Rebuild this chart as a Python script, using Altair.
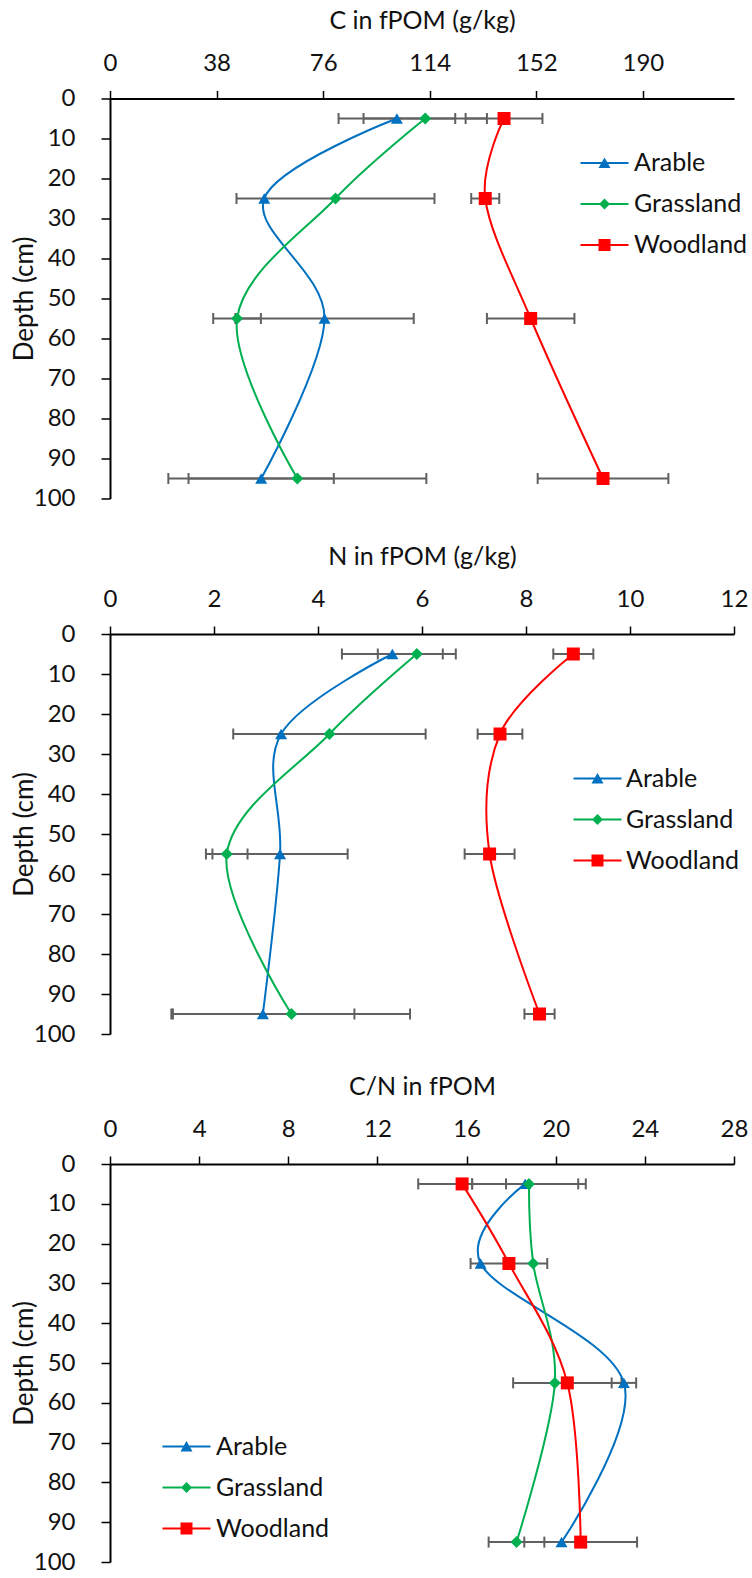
import altair as alt
import pandas as pd

SERIES = ["Arable", "Grassland", "Woodland"]
DEPTH = [5, 25, 55, 95]
COLORS = ["#0070C0", "#00B050", "#FF0000"]
SHAPES = ["triangle-up", "diamond", "square"]
SIZES = [144, 144, 169]
GREY = "#606060"

# Panel 1: C in fPOM (g/kg)
C_VALS = [
    [102.3, 55.0, 76.5, 53.9],
    [112.4, 80.4, 45.3, 66.8],
    [140.5, 133.8, 150.0, 175.8],
]
C_ERRS = [
    [20.8, None, 31.8, 25.9],
    [22.0, 35.3, 8.5, 46.0],
    [13.7, 5.0, 15.6, 23.3],
]
C_TICKS = [0, 38, 76, 114, 152, 190]

# Panel 2: N in fPOM (g/kg)
N_VALS = [
    [5.43, 3.29, 3.27, 2.94],
    [5.90, 4.22, 2.245, 3.49],
    [8.91, 7.50, 7.30, 8.26],
]
N_ERRS = [
    [0.97, None, 1.30, 1.76],
    [0.75, 1.85, 0.40, 2.28],
    [0.385, 0.43, 0.48, 0.29],
]
N_TICKS = [0, 2, 4, 6, 8, 10, 12]

# Panel 3: C/N in fPOM
CN_VALS = [
    [18.63, 16.63, 23.06, 20.26],
    [18.80, 18.99, 19.96, 18.24],
    [15.80, 17.90, 20.52, 21.12],
]
CN_ERRS = [
    [2.38, None, 0.55, None],
    [2.55, None, None, 1.25],
    [1.97, 1.72, 2.43, 2.53],
]
CN_TICKS = [0, 4, 8, 12, 16, 20, 24, 28]

LINE = "M-2.4,-0.1H2.4V0.1H-2.4Z"
LEG_PATHS = [
    LINE + "M0,-0.55L0.6,0.5H-0.6Z",
    LINE + "M0,-0.55L0.55,0L0,0.55L-0.55,0Z",
    LINE + "M-0.6,-0.6H0.6V0.6H-0.6Z",
]

FONT = "Lato"


def panel(vals, errs, xmax, xticks, xtitle, lx, ly, loff, height):
    rows = []
    for s, v, e in zip(SERIES, vals, errs):
        for d, vv, ee in zip(DEPTH, v, e):
            rows.append({"series": s, "depth": d, "value": vv, "err": ee})
    df = pd.DataFrame(rows)
    edf = df.dropna(subset=["err"]).copy()

    xs = alt.Scale(domain=[0, xmax], nice=False, zero=False)
    ys = alt.Scale(domain=[0, 100], reverse=True, nice=False)
    xax = alt.Axis(orient="top", values=xticks, title=xtitle, format="d", labelFlush=False)
    yax = alt.Axis(values=list(range(0, 101, 10)), title="Depth (cm)")
    Y = alt.Y("depth:Q", scale=ys, axis=yax)

    base_e = alt.Chart(edf).transform_calculate(
        lo="datum.value - datum.err", hi="datum.value + datum.err"
    )
    layers = [
        base_e.mark_rule(color=GREY, strokeWidth=2).encode(
            x=alt.X("lo:Q", scale=xs, axis=xax), x2="hi:Q", y=Y
        ),
        base_e.mark_tick(color=GREY, orient="vertical", size=11, thickness=2, opacity=1).encode(
            x=alt.X("lo:Q", scale=xs, axis=xax), y=Y
        ),
        base_e.mark_tick(color=GREY, orient="vertical", size=11, thickness=2, opacity=1).encode(
            x=alt.X("hi:Q", scale=xs, axis=xax), y=Y
        ),
    ]
    base = alt.Chart(df)
    for s, c in zip(SERIES, COLORS):
        layers.append(
            base.transform_filter(alt.datum.series == s)
            .mark_line(interpolate="cardinal", tension=0, strokeWidth=2, color=c)
            .encode(
                x=alt.X("value:Q", scale=xs, axis=xax),
                y=Y,
                order=alt.Order("depth:Q"),
            )
        )
    for s, c, sh, sz in zip(SERIES, COLORS, SHAPES, SIZES):
        layers.append(
            base.transform_filter(alt.datum.series == s)
            .mark_point(shape=sh, filled=True, size=sz, opacity=1, color=c)
            .encode(x=alt.X("value:Q", scale=xs, axis=xax), y=Y)
        )
    leg = alt.Legend(
        title=None,
        orient="none",
        legendX=lx,
        legendY=ly,
        symbolSize=400,
        symbolStrokeWidth=0,
        labelFont=FONT,
        labelFontSize=25,
        labelColor="#111111",
        labelOffset=loff,
        rowPadding=15,
        padding=0,
    )
    layers.append(
        base.mark_point(filled=True, size=0, opacity=1).encode(
            x=alt.X("value:Q", scale=xs, axis=xax),
            y=Y,
            color=alt.Color("series:N", scale=alt.Scale(domain=SERIES, range=COLORS), legend=leg),
            shape=alt.Shape("series:N", scale=alt.Scale(domain=SERIES, range=LEG_PATHS), legend=leg),
        )
    )
    return alt.layer(*layers).properties(width=624, height=height)


p1 = panel(C_VALS, C_ERRS, 222.5, C_TICKS, "C in fPOM (g/kg)", 482, 52, 17, 400)
p2 = panel(N_VALS, N_ERRS, 12, N_TICKS, "N in fPOM (g/kg)", 475, 132, 16, 400)
p3 = panel(CN_VALS, CN_ERRS, 28, CN_TICKS, "C/N in fPOM", 64, 270, 17, 398)

top = (
    alt.vconcat(p1, p2, spacing=31.5)
    .resolve_scale(color="independent", shape="independent")
    .resolve_legend(color="independent", shape="independent")
)

chart = (
    alt.vconcat(top, p3, spacing=26.5)
    .resolve_scale(color="independent", shape="independent")
    .resolve_legend(color="independent", shape="independent")
    .properties(padding={"left": 10, "top": 7.5, "right": 0, "bottom": 0})
    .configure_view(stroke="transparent")
    .configure_axis(
        grid=False,
        domainColor="#000000",
        domainWidth=2,
        tickColor="#000000",
        tickWidth=1.5,
        tickSize=8,
        labelFont=FONT,
        labelFontSize=24,
        labelColor="#111111",
        titleFont=FONT,
        titleFontSize=25,
        titleFontWeight="normal",
        titleColor="#111111",
    )
    .configure_axisTop(labelPadding=15, titlePadding=18)
    .configure_axisLeft(labelPadding=26, titlePadding=-4, tickSize=9, titleFontSize=26)
)

chart.save("out.html", embed_options={"renderer": "svg", "actions": False})
